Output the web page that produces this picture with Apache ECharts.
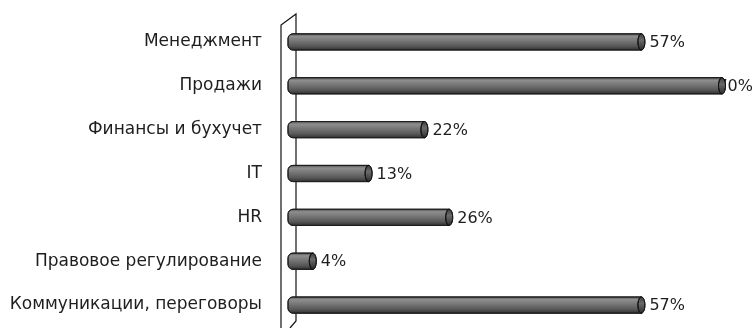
<!DOCTYPE html>
<html>
<head>
<meta charset="utf-8">
<script src="https://cdn.jsdelivr.net/npm/echarts@6/dist/echarts.min.js"></script>
<style>
  html, body { margin: 0; padding: 0; background: #fff; }
  #chart { width: 755px; height: 328px; }
</style>
</head>
<body>
<div id="chart"></div>
<script>
// Skills shares by area, in percent
const categories = [
  'Менеджмент',
  'Продажи',
  'Финансы и бухучет',
  'IT',
  'HR',
  'Правовое регулирование',
  'Коммуникации, переговоры'
];
const shares = [57, 70, 22, 13, 26, 4, 57];

const LABEL_FONT = 'DejaVu Sans';
const chart = echarts.init(document.getElementById('chart'));

// One cylinder per row: shaded body, rounded back end, elliptical front face
function renderCylinder(params, api) {
  const idx = api.value(0);
  const v = api.value(1);
  const start = api.coord([0, idx]);
  const end = api.coord([v, idx]);
  const h = api.size([0, 1])[1] * 0.37;
  const cy = start[1];
  const capRx = 3.5;

  const text = v + '%';
  const W = api.getWidth();
  const estW = 36;
  let tx = end[0] + 8, align = 'left';
  if (tx + estW > W - 2) { tx = W - 2; align = 'right'; }

  const bodyFill = new echarts.graphic.LinearGradient(0, 0, 0, 1, [
    { offset: 0, color: '#4a4a4a' },
    { offset: 0.18, color: '#8e8e8e' },
    { offset: 0.4, color: '#7a7a7a' },
    { offset: 0.75, color: '#575757' },
    { offset: 1, color: '#2c2c2c' }
  ]);
  const capFill = new echarts.graphic.LinearGradient(0, 0, 0, 1, [
    { offset: 0, color: '#3a3a3a' },
    { offset: 0.4, color: '#6a6a6a' },
    { offset: 1, color: '#2a2a2a' }
  ]);

  return {
    type: 'group',
    children: [
      {
        type: 'text',
        style: {
          text: text, x: tx, y: cy + 1,
          align: align, verticalAlign: 'middle',
          font: '16px "' + LABEL_FONT + '"', fill: '#1e1e1e'
        }
      },
      {
        type: 'rect',
        shape: { x: start[0], y: cy - h / 2, width: end[0] - start[0], height: h, r: [5, 0, 0, 5] },
        style: { fill: bodyFill, stroke: '#1e1e1e', lineWidth: 1 }
      },
      {
        type: 'ellipse',
        shape: { cx: end[0], cy: cy, rx: capRx, ry: h / 2 },
        style: { fill: capFill, stroke: '#111', lineWidth: 1 }
      }
    ]
  };
}

chart.setOption({
  animation: false,
  grid: { left: 288, right: 33, top: 20, bottom: 1 },
  xAxis: {
    type: 'value', min: 0, max: 70, show: false
  },
  yAxis: {
    type: 'category',
    data: categories,
    inverse: true,
    axisLine: { show: false },
    axisTick: { show: false },
    axisLabel: {
      margin: 26,
      fontFamily: LABEL_FONT,
      fontSize: 17,
      color: '#1e1e1e'
    }
  },
  series: [{
    type: 'custom',
    renderItem: renderCylinder,
    encode: { x: 1, y: 0 },
    data: shares.map((v, i) => [i, v]),
    z: 5
  }]
});

// Side wall of the 3D plot area, placed from the grid's zero line
const p0 = chart.convertToPixel({ gridIndex: 0 }, [0, 0]);
const gridRect = chart.getModel().getComponent('grid', 0).coordinateSystem.getRect();
const zx = p0[0];
const wallTop = gridRect.y;
const wallBottom = gridRect.y + gridRect.height;
chart.setOption({
  graphic: [
    {
      type: 'polyline', z: 1, silent: true,
      shape: { points: [[zx - 7, 328], [zx - 7, wallTop + 5], [zx + 8, wallTop - 6], [zx + 8, wallBottom - 6], [zx + 2, wallBottom + 1]] },
      style: { stroke: '#111', lineWidth: 1.2, fill: null }
    }
  ]
});
</script>
</body>
</html>
